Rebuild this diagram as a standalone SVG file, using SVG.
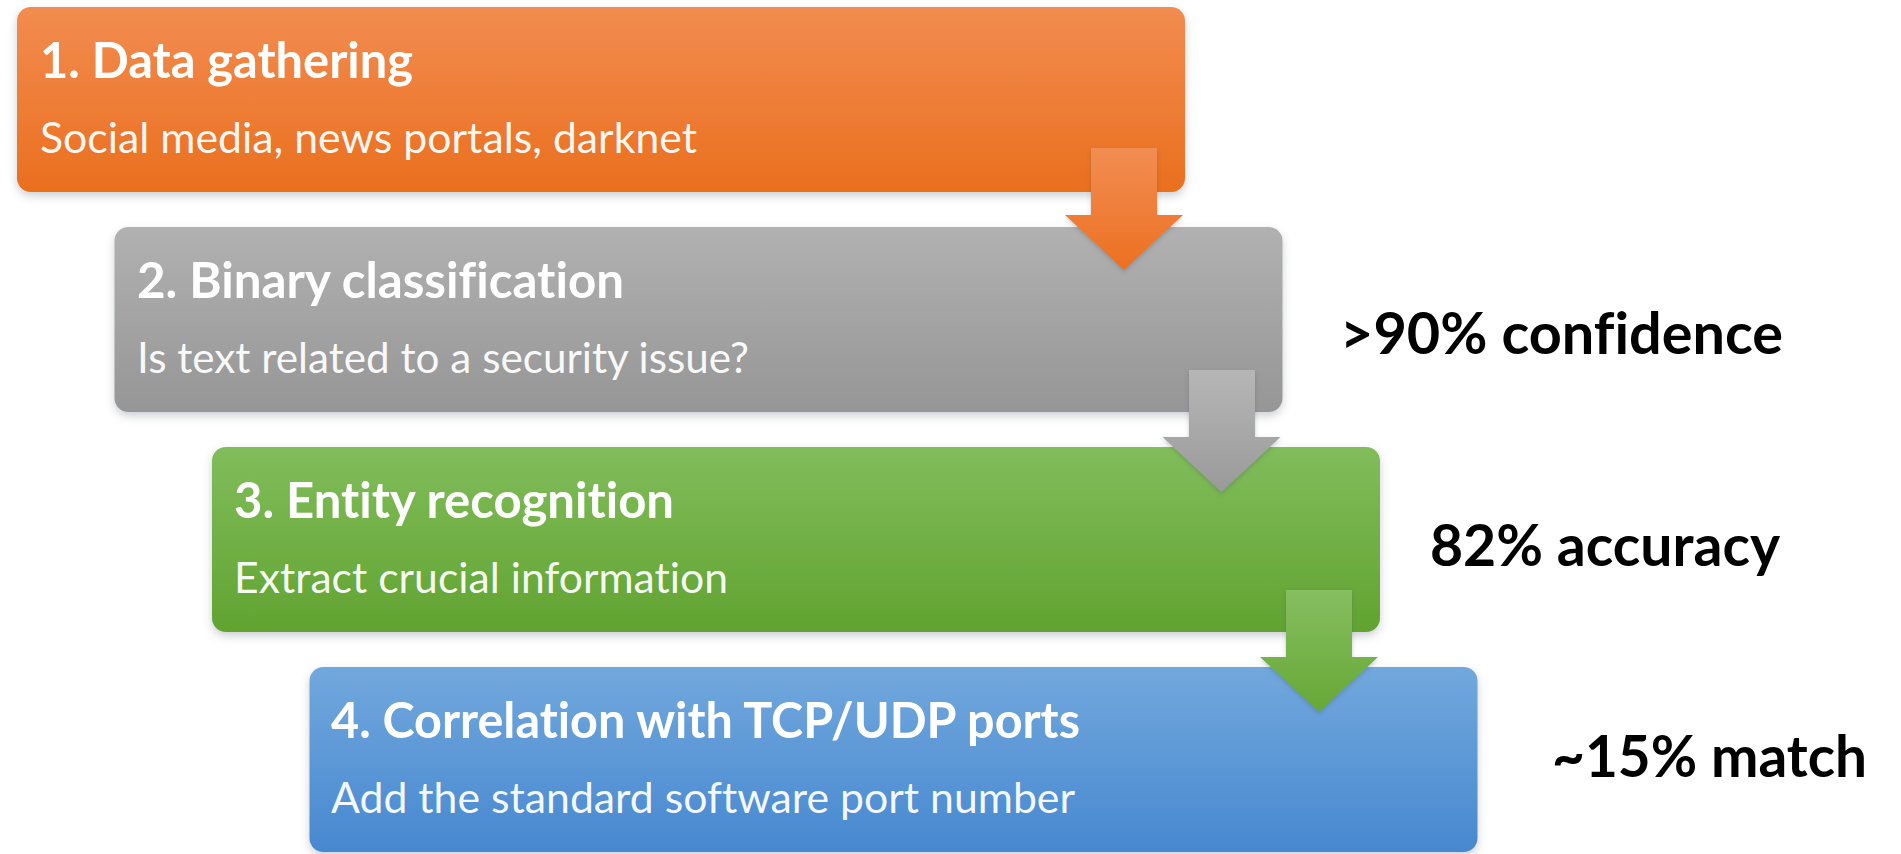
<svg xmlns="http://www.w3.org/2000/svg" width="1901" height="854" viewBox="0 0 1901 854">
  <defs>
    <linearGradient id="gOrange" x1="0" y1="0" x2="0" y2="1">
      <stop offset="0" stop-color="#F28C50"/>
      <stop offset="1" stop-color="#EA6F1E"/>
    </linearGradient>
    <linearGradient id="gGray" x1="0" y1="0" x2="0" y2="1">
      <stop offset="0" stop-color="#B1B1B1"/>
      <stop offset="1" stop-color="#969696"/>
    </linearGradient>
    <linearGradient id="gGreen" x1="0" y1="0" x2="0" y2="1">
      <stop offset="0" stop-color="#81BD5B"/>
      <stop offset="1" stop-color="#61A331"/>
    </linearGradient>
    <linearGradient id="gBlue" x1="0" y1="0" x2="0" y2="1">
      <stop offset="0" stop-color="#72A8DD"/>
      <stop offset="1" stop-color="#4788D0"/>
    </linearGradient>
    <linearGradient id="aOrange" x1="0" y1="0" x2="0" y2="1">
      <stop offset="0" stop-color="#F28D52"/>
      <stop offset="1" stop-color="#EC7021"/>
    </linearGradient>
    <linearGradient id="aGray" x1="0" y1="0" x2="0" y2="1">
      <stop offset="0" stop-color="#B6B6B6"/>
      <stop offset="1" stop-color="#9A9A9A"/>
    </linearGradient>
    <linearGradient id="aGreen" x1="0" y1="0" x2="0" y2="1">
      <stop offset="0" stop-color="#86BE60"/>
      <stop offset="1" stop-color="#66A836"/>
    </linearGradient>
    <filter id="shadow" x="-5%" y="-10%" width="110%" height="125%">
      <feDropShadow dx="0" dy="4" stdDeviation="4" flood-color="#556070" flood-opacity="0.3"/>
    </filter>
    <filter id="soft" x="-10%" y="-10%" width="120%" height="130%">
      <feDropShadow dx="0" dy="2" stdDeviation="2" flood-color="#405060" flood-opacity="0.3"/>
    </filter>
    <style>
      .box { filter: url(#shadow); }
      text { font-variant-ligatures: none; font-feature-settings: "liga" 0, "clig" 0; }
      .title { font-family: Lato, "Open Sans", "Liberation Sans", sans-serif; font-weight: 700; font-size: 49px; fill: #FFFFFF; }
      .sub { font-family: Lato, "Open Sans", "Liberation Sans", sans-serif; font-weight: 400; font-size: 43px; fill: #FFFFFF; fill-opacity: 0.95; }
      .metric { font-family: Lato, "Open Sans", "Liberation Sans", sans-serif; font-weight: 700; font-size: 58px; fill: #000000; }
      .arrow { filter: url(#soft); }
    </style>
  </defs>

  <rect width="1901" height="854" fill="#FFFFFF"/>

  <!-- Step 1 -->
  <g id="step1">
    <rect class="box" x="17" y="7" width="1168" height="185" rx="14" fill="url(#gOrange)"/>
    <text class="title" x="40" y="78" textLength="373" lengthAdjust="spacingAndGlyphs">1. Data gathering</text>
    <text class="sub" x="40" y="153" textLength="657" lengthAdjust="spacingAndGlyphs">Social media, news portals, darknet</text>
  </g>

  <!-- Step 2 -->
  <g id="step2">
    <rect class="box" x="114.5" y="227" width="1168" height="185" rx="14" fill="url(#gGray)"/>
    <text class="title" x="137" y="298" textLength="487" lengthAdjust="spacingAndGlyphs">2. Binary classification</text>
    <text class="sub" x="137" y="373" textLength="612" lengthAdjust="spacingAndGlyphs">Is text related to a security issue?</text>
  </g>

  <!-- Step 3 -->
  <g id="step3">
    <rect class="box" x="212" y="447" width="1168" height="185" rx="14" fill="url(#gGreen)"/>
    <text class="title" x="234" y="518" textLength="440" lengthAdjust="spacingAndGlyphs">3. Entity recognition</text>
    <text class="sub" x="234" y="593" textLength="494" lengthAdjust="spacingAndGlyphs">Extract crucial information</text>
  </g>

  <!-- Step 4 -->
  <g id="step4">
    <rect class="box" x="309.5" y="667" width="1168" height="185" rx="14" fill="url(#gBlue)"/>
    <text class="title" x="331" y="738" textLength="749" lengthAdjust="spacingAndGlyphs">4. Correlation with TCP/UDP ports</text>
    <text class="sub" x="331" y="813" textLength="744" lengthAdjust="spacingAndGlyphs">Add the standard software port number</text>
  </g>

  <!-- Downward block arrows between steps -->
  <g id="connectors">
    <path class="arrow" d="M1091,148 H1157 V215 H1183 L1124,270 L1065,215 H1091 Z" fill="url(#aOrange)"/>
    <path class="arrow" d="M1189,370 H1255 V437 H1280.5 L1221.5,492 L1162.5,437 H1189 Z" fill="url(#aGray)"/>
    <path class="arrow" d="M1286,590 H1352 V657 H1378 L1319,712 L1260,657 H1286 Z" fill="url(#aGreen)"/>
  </g>

  <!-- Result figures beside each stage -->
  <g id="metrics">
    <text class="metric" x="1340" y="354" textLength="443" lengthAdjust="spacingAndGlyphs">&gt;90% confidence</text>
    <text class="metric" x="1430" y="566" textLength="350" lengthAdjust="spacingAndGlyphs">82% accuracy</text>
    <text class="metric" x="1552" y="777" textLength="315" lengthAdjust="spacingAndGlyphs">~15% match</text>
  </g>
</svg>
